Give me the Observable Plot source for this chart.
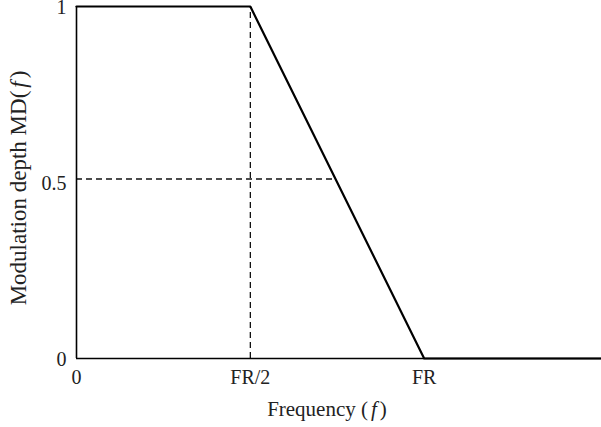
<!DOCTYPE html>
<html>
<head>
<meta charset="utf-8">
<script src="https://cdn.jsdelivr.net/npm/d3@7"></script>
<script src="https://cdn.jsdelivr.net/npm/@observablehq/plot@0.6"></script>
<style>
  html, body { margin: 0; padding: 0; background: #fff; }
  svg { display: block; }
</style>
</head>
<body>
<div id="chart"></div>
<script>
// Modulation depth profile (frequency in units of FR)
const freq = [0, 0.5, 1, 1.51];
const depth = [1, 1, 0, 0];
// dashed guide lines
const guideX = [0.5];          // FR/2 vertical
const guideYLevel = [0.51];    // 0.5 horizontal guide
const guideYEnd = [0.745];     // where the guide meets the slope
const xTicks = [0, 0.5, 1];
const xTickLabels = ["0", "FR/2", "FR"];
const yTicks = [0, 0.5, 1];
const yTickLabels = ["0", "0.5", "1"];

const font = "Liberation Serif, Times New Roman, serif";
const profile = freq.map((f, i) => ({f, d: depth[i]}));

const plot = Plot.plot({
  width: 601,
  height: 427,
  marginLeft: 76,
  marginRight: 0,
  marginTop: 6,
  marginBottom: 69,
  style: {fontFamily: font, fontSize: "20px", color: "#222", background: "#fff", overflow: "visible"},
  x: {domain: [0, 1.51]},
  y: {domain: [0, 1]},
  marks: [
    Plot.axisX({ticks: xTicks, tickFormat: (d) => xTickLabels[xTicks.indexOf(d)], tickSize: 0, tickPadding: 11, label: null, fontSize: 20}),
    Plot.axisY({ticks: yTicks, tickFormat: (d) => yTickLabels[yTicks.indexOf(d)], tickSize: 0, tickPadding: 10, label: null, fontSize: 20, dy: 1.5}),
    Plot.ruleX(guideX, {y1: 0, y2: 1, stroke: "#111", strokeWidth: 1.3, strokeDasharray: "6,4"}),
    Plot.ruleY(guideYLevel, {x1: 0, x2: guideYEnd[0], stroke: "#111", strokeWidth: 1.3, strokeDasharray: "6,4"}),
    Plot.ruleX([0], {y1: 0, y2: 1, stroke: "#000", strokeWidth: 1.6}),
    Plot.ruleY([0], {stroke: "#000", strokeWidth: 1.6}),
    Plot.line(profile, {x: "f", y: "d", stroke: "#000", strokeWidth: 2.2})
  ]
});

document.getElementById("chart").appendChild(plot);

// Axis titles with italic f
const svg = d3.select(plot);
const xl = svg.append("text")
  .attr("x", 327).attr("y", 416)
  .attr("text-anchor", "middle")
  .attr("font-family", font).attr("font-size", 21).attr("fill", "#222");
xl.append("tspan").text("Frequency (");
xl.append("tspan").attr("font-style", "italic").attr("dx", 3).text("f");
xl.append("tspan").attr("dx", 3).text(")");

const yl = svg.append("text")
  .attr("transform", "translate(26,188) rotate(-90)")
  .attr("text-anchor", "middle")
  .attr("font-family", font).attr("font-size", 23).attr("fill", "#222");
yl.append("tspan").text("Modulation depth MD(");
yl.append("tspan").attr("font-style", "italic").attr("dx", 3).text("f");
yl.append("tspan").attr("dx", 3).text(")");
</script>
</body>
</html>
